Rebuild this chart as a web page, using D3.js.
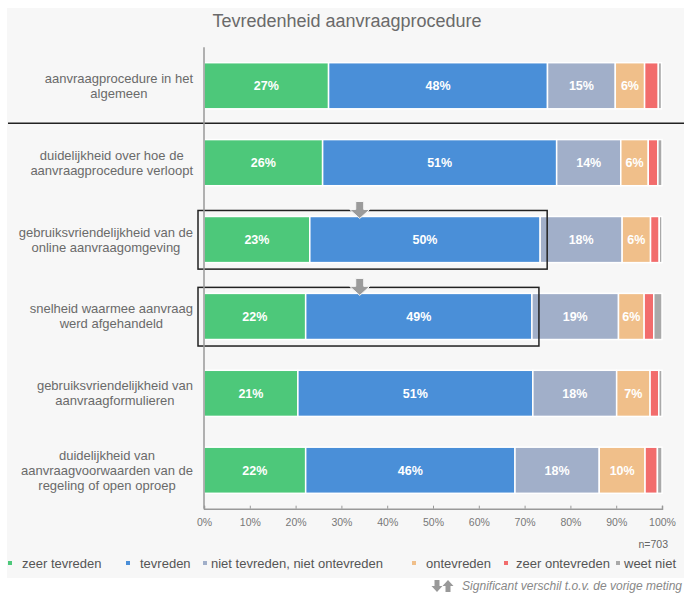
<!DOCTYPE html>
<html>
<head>
<meta charset="utf-8">
<script src="https://cdn.jsdelivr.net/npm/d3@7"></script>
<style>
  body { margin: 0; background: #fff; }
  svg { display: block; font-family: "Liberation Sans", Arial, Helvetica, sans-serif; }
</style>
</head>
<body>
<div id="chart"></div>
<script>
// data
const rowLabels = [
  ["aanvraagprocedure in het", "algemeen"],
  ["duidelijkheid over hoe de", "aanvraagprocedure verloopt"],
  ["gebruiksvriendelijkheid van de", "online aanvraagomgeving"],
  ["snelheid waarmee aanvraag", "werd afgehandeld"],
  ["gebruiksvriendelijkheid van", "aanvraagformulieren"],
  ["duidelijkheid van", "aanvraagvoorwaarden van de", "regeling of open oproep"]
];
const seriesNames = ["zeer tevreden", "tevreden", "niet tevreden, niet ontevreden", "ontevreden", "zeer ontevreden", "weet niet"];
const zeerTevreden   = [27.2, 25.9, 23.1, 22.2, 20.5, 22.2];
const tevreden       = [47.8, 51.1, 50.3, 49.4, 51.3, 45.7];
const nietNiet       = [14.8, 14.0, 17.9, 18.9, 18.3, 18.4];
const ontevreden     = [6.4, 6.0, 6.2, 5.6, 7.3, 10.0];
const zeerOntevreden = [3.0, 2.1, 1.9, 2.1, 1.9, 2.7];
const weetNiet       = [0.7, 0.9, 0.6, 1.8, 0.7, 1.0];
const xTicks = [0, 10, 20, 30, 40, 50, 60, 70, 80, 90, 100];
// significant change (row index, direction, arrow position in %)
const sigRows = [2, 3];
const sigDir = ["down", "down"];
const sigAt = [34, 34];
const nText = "n=703";

const colors = ["#4dc87a", "#4a8fd8", "#a1afc9", "#f0bf8a", "#f26c6c", "#a9a9a9"];
const legendX = [10, 128, 205, 414, 506, 618];   // marker centres
const legendGap = [12, 12, 6, 12, 10, 6];

const W = 684, H = 594;
const svg = d3.select("#chart").append("svg").attr("width", W).attr("height", H);

// panel background
svg.append("rect").attr("x", 7).attr("y", 8).attr("width", W - 7).attr("height", 570).attr("fill", "#f7f7f7");

svg.append("text").attr("x", 347).attr("y", 27).attr("text-anchor", "middle")
  .attr("font-size", 18).attr("fill", "#6a6a6a").text("Tevredenheid aanvraagprocedure");

const allSeries = [zeerTevreden, tevreden, nietNiet, ontevreden, zeerOntevreden, weetNiet];
const table = rowLabels.map((l, i) => {
  const o = { idx: i };
  seriesNames.forEach((s, k) => o[s] = allSeries[k][i]);
  return o;
});
const stacked = d3.stack().keys(seriesNames)(table);

const x = d3.scaleLinear().domain([0, 100]).range([204, 662]);
const y = d3.scaleBand().domain(d3.range(rowLabels.length)).range([47.3, 508.7])
  .paddingInner(0.4).paddingOuter(0.2);

// separator under first row
const sepY = y(1) - y.step() * 0.2 - 1;
svg.append("line").attr("x1", 8).attr("x2", W).attr("y1", sepY).attr("y2", sepY)
  .attr("stroke", "#222").attr("stroke-width", 1.5);

// bars
const layers = svg.append("g").selectAll("g").data(stacked).join("g")
  .attr("fill", (d, i) => colors[i]);
layers.selectAll("rect").data(d => d).join("rect")
  .attr("x", d => x(d[0]))
  .attr("y", (d, i) => y(i))
  .attr("width", d => Math.max(0, x(d[1]) - x(d[0])))
  .attr("height", y.bandwidth())
  .attr("stroke", "#fff").attr("stroke-width", 1.5);

// value labels
layers.each(function(s, si) {
  if (si > 3) return;
  d3.select(this).selectAll("text").data(s).join("text")
    .attr("x", d => (x(d[0]) + x(d[1])) / 2)
    .attr("y", (d, i) => y(i) + y.bandwidth() / 2 + 4.5)
    .attr("text-anchor", "middle").attr("font-size", 12.5).attr("font-weight", "bold")
    .attr("fill", "#fff")
    .text(d => Math.round(d[1] - d[0]) + "%");
});

// highlight boxes + arrows
sigRows.forEach((r, k) => {
  const end = x(zeerTevreden[r] + tevreden[r]);
  svg.append("rect")
    .attr("x", x(0) - 6).attr("y", y(r) - 6)
    .attr("width", end - x(0) + 13).attr("height", y.bandwidth() + 12.5)
    .attr("fill", "none").attr("stroke", "#222").attr("stroke-width", 1.5);
  const cx = x(sigAt[k]);
  const tip = y(r) + 2;
  const dir = sigDir[k] === "down" ? 1 : -1;
  const p = d3.path();
  p.moveTo(cx - 4, tip - 17 * dir);
  p.lineTo(cx + 4, tip - 17 * dir);
  p.lineTo(cx + 4, tip - 9 * dir);
  p.lineTo(cx + 10, tip - 9 * dir);
  p.lineTo(cx, tip);
  p.lineTo(cx - 10, tip - 9 * dir);
  p.lineTo(cx - 4, tip - 9 * dir);
  p.closePath();
  svg.append("path").attr("d", p.toString()).attr("fill", "#9b9b9b")
    .attr("stroke", "#f7f7f7").attr("stroke-width", 1);
});

// row labels: block right-aligned, lines centred inside block
rowLabels.forEach((lines, i) => {
  const g = svg.append("g");
  const cy = y(i) + y.bandwidth() / 2;
  const t = g.selectAll("text").data(lines).join("text")
    .attr("y", (d, j) => cy + (j - (lines.length - 1) / 2) * 15 + 4.5)
    .attr("text-anchor", "middle").attr("font-size", 13).attr("fill", "#6a6a6a")
    .text(d => d);
  const maxW = d3.max(t.nodes(), n => n.getComputedTextLength());
  t.attr("x", 193 - maxW / 2);
});

// axes
svg.append("line").attr("x1", x(0)).attr("x2", x(0)).attr("y1", y.range()[0]).attr("y2", y.range()[1])
  .attr("stroke", "#999").attr("stroke-width", 1.5);
const axis = svg.append("g").attr("transform", `translate(0,${y.range()[1]})`)
  .call(d3.axisBottom(x).tickValues(xTicks).tickSize(-3).tickPadding(8).tickFormat(d => d + "%"));
axis.select(".domain").attr("stroke", "#999").attr("stroke-width", 1.5);
axis.selectAll(".tick line").attr("stroke", "#999");
axis.selectAll(".tick text").attr("fill", "#777").attr("font-size", 10.5)
  .attr("font-family", "'Liberation Sans', Arial, sans-serif").attr("dy", "0.9em");

svg.append("text").attr("x", 668).attr("y", 548).attr("text-anchor", "end")
  .attr("font-size", 10.5).attr("fill", "#666").text(nText);

// legend
const leg = svg.append("g");
seriesNames.forEach((s, i) => {
  leg.append("rect").attr("x", legendX[i] - 2).attr("y", 561).attr("width", 4).attr("height", 4).attr("fill", colors[i]);
  leg.append("text").attr("x", legendX[i] + legendGap[i]).attr("y", 567.5)
    .attr("font-size", 13).attr("fill", "#555").text(s);
});

// footnote
function arrowPath(cx, top, dir) {
  const p = d3.path();
  const h = 12, bottom = top + h;
  if (dir === "down") {
    p.moveTo(cx - 2.5, top); p.lineTo(cx + 2.5, top); p.lineTo(cx + 2.5, top + 6);
    p.lineTo(cx + 5.5, top + 6); p.lineTo(cx, bottom); p.lineTo(cx - 5.5, top + 6); p.lineTo(cx - 2.5, top + 6);
  } else {
    p.moveTo(cx - 2.5, bottom); p.lineTo(cx + 2.5, bottom); p.lineTo(cx + 2.5, top + 6);
    p.lineTo(cx + 5.5, top + 6); p.lineTo(cx, top); p.lineTo(cx - 5.5, top + 6); p.lineTo(cx - 2.5, top + 6);
  }
  p.closePath();
  return p.toString();
}
svg.append("path").attr("d", arrowPath(437, 580, "down")).attr("fill", "#999");
svg.append("path").attr("d", arrowPath(448, 580, "up")).attr("fill", "#999");
svg.append("text").attr("x", 682).attr("y", 590).attr("text-anchor", "end")
  .attr("font-size", 12).attr("font-style", "italic").attr("fill", "#888")
  .text("Significant verschil t.o.v. de vorige meting");
</script>
</body>
</html>
